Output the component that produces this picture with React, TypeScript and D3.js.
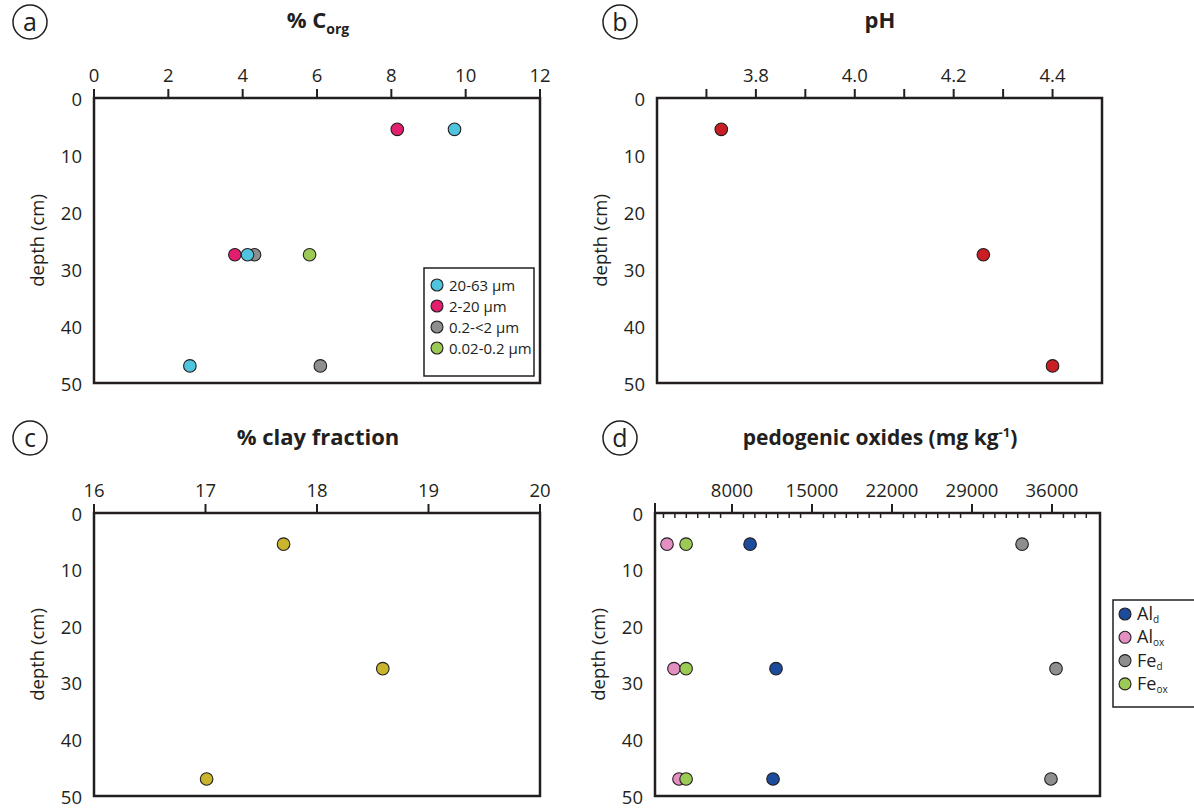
import { useEffect, useRef } from 'react';
import * as d3 from 'd3';

// sample depths (cm)
const depths = [5.5, 27.5, 47];
const depthTicks = [0, 10, 20, 30, 40, 50];

// panel a: % Corg per size fraction
const corgFractions = ['20-63 µm', '2-20 µm', '0.2-<2 µm', '0.02-0.2 µm'];
const corgColors = ['#4fc4df', '#e31e6e', '#8e8e8e', '#9ccb55'];
const corg_20_63 = [9.7, 4.13, 2.58];
const corg_2_20 = [8.16, 3.79, null];
const corg_02_2 = [null, 4.32, 6.09];
const corg_002_02 = [null, 5.8, null];
const corgTicks = [0, 2, 4, 6, 8, 10, 12];

// panel b: pH
const phValues = [3.73, 4.26, 4.4];
const phTicks = [3.7, 3.8, 3.9, 4.0, 4.1, 4.2, 4.3, 4.4];
const phLabels = [3.8, 4.0, 4.2, 4.4];

// panel c: % clay fraction
const clayValues = [17.7, 18.59, 17.01];
const clayTicks = [16, 17, 18, 19, 20];

// panel d: pedogenic oxides (mg/kg)
const oxideNames = [['Al', 'd'], ['Al', 'ox'], ['Fe', 'd'], ['Fe', 'ox']];
const oxideColors = ['#1c4b9c', '#e48fc2', '#8e8e8e', '#9ccb55'];
const alD = [9580, 11850, 11590];
const alOx = [2310, 2920, 3360];
const feD = [33380, 36350, 35910];
const feOx = [3980, 3980, 3980];
const oxideMajor = [8000, 15000, 22000, 29000, 36000];
const oxideMinor = d3.range(2000, 40000, 1000).filter(v => !oxideMajor.includes(v));

const FONT = '"Open Sans", sans-serif';
const INK = '#231f20';

export default function App() {
  const ref = useRef<SVGSVGElement>(null);

  useEffect(() => {
    const svg = d3.select(ref.current);
    svg.selectAll('*').remove();
    svg.style('font-family', FONT);

    const panel = (
      x0: number, x1: number, y0: number, y1: number,
      xDomain: [number, number], letter: string, lx: number, ly: number
    ) => {
      const x = d3.scaleLinear().domain(xDomain).range([x0, x1]);
      const y = d3.scaleLinear().domain([0, 50]).range([y0, y1]);
      const g = svg.append('g');

      g.append('rect')
        .attr('x', x0).attr('y', y0)
        .attr('width', x1 - x0).attr('height', y1 - y0)
        .attr('fill', 'none').attr('stroke', INK).attr('stroke-width', 2.5);

      g.selectAll('.dl').data(depthTicks).enter().append('text')
        .attr('x', x0 - 12).attr('y', d => y(d))
        .attr('text-anchor', 'end').attr('dominant-baseline', 'central')
        .attr('font-size', 18.5).attr('fill', INK)
        .text(d => d);

      g.append('text')
        .attr('transform', `translate(${x0 - 58},${(y0 + y1) / 2}) rotate(-90)`)
        .attr('text-anchor', 'middle').attr('dominant-baseline', 'central')
        .attr('font-size', 18.5).attr('fill', INK)
        .text('depth (cm)');

      g.append('circle')
        .attr('cx', lx).attr('cy', ly).attr('r', 17)
        .attr('fill', 'none').attr('stroke', INK).attr('stroke-width', 1.5);
      g.append('text')
        .attr('x', lx).attr('y', ly - 1)
        .attr('text-anchor', 'middle').attr('dominant-baseline', 'central')
        .attr('font-size', 25).attr('fill', INK)
        .text(letter);

      return { x, y, g };
    };

    const topTicks = (g: any, x: any, y0: number, ticks: number[], len: number) => {
      g.selectAll(null).data(ticks).enter().append('line')
        .attr('x1', (d: number) => x(d)).attr('x2', (d: number) => x(d))
        .attr('y1', y0).attr('y2', y0 - len)
        .attr('stroke', INK).attr('stroke-width', 2);
    };

    const topLabels = (g: any, x: any, y0: number, ticks: number[], fmt: (d: number) => string) => {
      g.selectAll(null).data(ticks).enter().append('text')
        .attr('x', (d: number) => x(d)).attr('y', y0 - 16)
        .attr('text-anchor', 'middle')
        .attr('font-size', 18.5).attr('fill', INK)
        .text(fmt);
    };

    const dots = (g: any, x: any, y: any, vals: (number | null)[], color: string) => {
      const pts = vals.map((v, i) => ({ v, d: depths[i] })).filter(p => p.v !== null);
      g.selectAll(null).data(pts).enter().append('circle')
        .attr('cx', (p: any) => x(p.v)).attr('cy', (p: any) => y(p.d))
        .attr('r', 6.3)
        .attr('fill', color).attr('stroke', INK).attr('stroke-width', 1.1);
    };

    // ---- panel a
    const a = panel(94, 540, 98, 383, [0, 12], 'a', 30, 22);
    topTicks(a.g, a.x, 98, corgTicks, 9);
    topLabels(a.g, a.x, 98, corgTicks, d => String(d));
    const ta = a.g.append('text').attr('x', 318).attr('y', 28)
      .attr('text-anchor', 'middle').attr('font-weight', 'bold').attr('fill', INK);
    ta.append('tspan').attr('font-size', 22).text('% C');
    ta.append('tspan').attr('font-size', 14).attr('dy', 6).text('org');

    dots(a.g, a.x, a.y, corg_002_02, corgColors[3]);
    dots(a.g, a.x, a.y, corg_02_2, corgColors[2]);
    dots(a.g, a.x, a.y, corg_2_20, corgColors[1]);
    dots(a.g, a.x, a.y, corg_20_63, corgColors[0]);

    const lga = a.g.append('g');
    lga.append('rect').attr('x', 424).attr('y', 268).attr('width', 110).attr('height', 108)
      .attr('fill', 'white').attr('stroke', INK).attr('stroke-width', 1.5);
    corgFractions.forEach((name, i) => {
      const yy = 285 + i * 21;
      lga.append('circle').attr('cx', 437).attr('cy', yy).attr('r', 6)
        .attr('fill', corgColors[i]).attr('stroke', INK).attr('stroke-width', 1.1);
      lga.append('text').attr('x', 449).attr('y', yy)
        .attr('dominant-baseline', 'central').attr('font-size', 15).attr('fill', INK)
        .text(name);
    });

    // ---- panel b
    const b = panel(657, 1102, 98, 383, [3.6, 4.5], 'b', 620, 22);
    topTicks(b.g, b.x, 98, phTicks, 9);
    topLabels(b.g, b.x, 98, phLabels, d3.format('.1f'));
    b.g.append('text').attr('x', 880).attr('y', 28)
      .attr('text-anchor', 'middle').attr('font-weight', 'bold')
      .attr('font-size', 22).attr('fill', INK).text('pH');
    dots(b.g, b.x, b.y, phValues, '#c81e24');

    // ---- panel c
    const c = panel(94, 540, 513, 796, [16, 20], 'c', 30, 438);
    topTicks(c.g, c.x, 513, clayTicks, 9);
    topLabels(c.g, c.x, 513, clayTicks, d => String(d));
    c.g.append('text').attr('x', 318).attr('y', 445)
      .attr('text-anchor', 'middle').attr('font-weight', 'bold')
      .attr('font-size', 22).attr('fill', INK).text('% clay fraction');
    dots(c.g, c.x, c.y, clayValues, '#c9b52c');

    // ---- panel d
    const d = panel(655, 1100, 513, 796, [1260, 40200], 'd', 620, 438);
    topTicks(d.g, d.x, 513, oxideMajor, 9);
    d.g.append('line').attr('x1', 655).attr('x2', 655).attr('y1', 513).attr('y2', 503)
      .attr('stroke', INK).attr('stroke-width', 2);
    d.g.selectAll(null).data(oxideMinor).enter().append('line')
      .attr('x1', (v: number) => d.x(v)).attr('x2', (v: number) => d.x(v))
      .attr('y1', 513).attr('y2', 518)
      .attr('stroke', INK).attr('stroke-width', 1.5);
    topLabels(d.g, d.x, 513, oxideMajor, v => String(v));
    const td = d.g.append('text').attr('x', 880).attr('y', 445)
      .attr('text-anchor', 'middle').attr('font-weight', 'bold').attr('fill', INK);
    td.append('tspan').attr('font-size', 21).text('pedogenic oxides (mg kg');
    td.append('tspan').attr('font-size', 13).attr('dy', -8).text('-1');
    td.append('tspan').attr('font-size', 21).attr('dy', 8).text(')');

    dots(d.g, d.x, d.y, feD, oxideColors[2]);
    dots(d.g, d.x, d.y, alD, oxideColors[0]);
    dots(d.g, d.x, d.y, alOx, oxideColors[1]);
    dots(d.g, d.x, d.y, feOx, oxideColors[3]);

    const lgd = d.g.append('g');
    lgd.append('rect').attr('x', 1113).attr('y', 600).attr('width', 100).attr('height', 107)
      .attr('fill', 'white').attr('stroke', INK).attr('stroke-width', 1.5);
    oxideNames.forEach(([el, sub], i) => {
      const yy = 614 + i * 23.3;
      lgd.append('circle').attr('cx', 1125).attr('cy', yy).attr('r', 6)
        .attr('fill', oxideColors[i]).attr('stroke', INK).attr('stroke-width', 1.1);
      const t = lgd.append('text').attr('x', 1137).attr('y', yy + 6)
        .attr('font-size', 18).attr('fill', INK);
      t.append('tspan').text(el);
      t.append('tspan').attr('font-size', 10).attr('dy', 3).text(sub);
    });
  }, []);

  return (
    <svg
      ref={ref}
      width={1194}
      height={811}
      style={{ position: 'absolute', left: 0, top: 0, background: 'white' }}
    />
  );
}
